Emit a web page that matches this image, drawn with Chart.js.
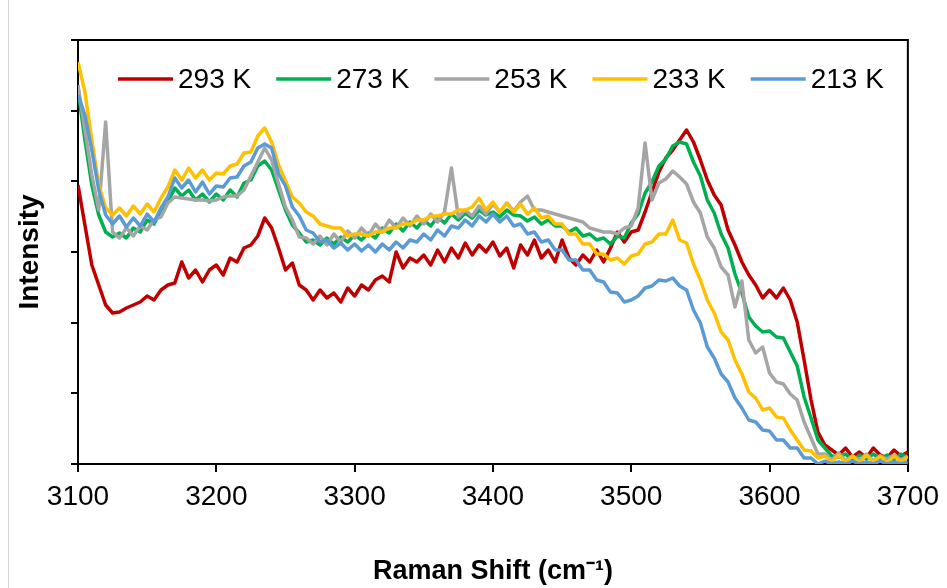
<!DOCTYPE html>
<html>
<head>
<meta charset="utf-8">
<script src="https://cdn.jsdelivr.net/npm/chart.js@4"></script>
<style>
  html, body { margin: 0; padding: 0; background: #fff; }
  #wrap { position: relative; width: 947px; height: 588px; }
  #edge { position: absolute; left: 8px; top: 0; width: 1px; height: 588px; background: #d4d4d4; }
</style>
</head>
<body>
<div id="wrap">
  <div id="edge"></div>
  <canvas id="ramanChart" width="947" height="588"></canvas>
</div>
<script>
// Sampling grid (cm-1)
const shiftStart = 3100;
const shiftStep = 5;
const xTicks = [3100, 3200, 3300, 3400, 3500, 3600, 3700];

// Series labels
const temps = ["293 K", "273 K", "253 K", "233 K", "213 K"];

// Intensity (a.u.), one value per 5 cm-1 from 3100 to 3700
const i293 = [279,239,199,179,159,151,152,156,159,162,
  168,164,174,179,181,202,186,194,182,194,
  199,189,206,202,216,219,228,246,236,216,
  194,201,179,174,164,174,166,171,162,176,
  168,179,174,184,188,182,212,196,206,202,
  209,199,214,202,216,206,221,209,219,212,
  222,208,216,196,219,209,224,206,214,202,
  224,206,199,209,202,214,202,216,232,222,
  232,234,252,272,292,306,314,324,334,322,
  304,284,269,259,234,219,202,189,179,166,
  174,166,176,164,142,104,64,32,19,14,
  9,16,7,12,6,16,9,6,14,8,12];

const i273 = [374,324,279,249,232,227,231,226,236,232,
  244,240,254,262,276,268,274,264,270,262,
  270,264,274,267,281,284,298,303,294,274,
  254,239,231,222,224,219,226,220,227,222,
  229,224,231,226,236,231,240,233,242,236,
  244,238,247,241,250,244,251,246,254,249,
  252,247,254,249,248,243,247,240,244,238,
  238,232,236,228,230,224,226,220,228,226,
  241,250,271,282,298,305,318,322,320,302,
  288,264,251,230,216,190,171,147,138,132,
  133,127,126,112,98,67,46,24,16,8,
  7,10,3,9,5,10,5,9,4,10,6];

const i253 = [379,334,289,254,342,232,226,236,228,238,
  234,244,247,261,267,266,265,264,264,263,
  264,267,268,268,274,288,302,316,304,280,
  257,244,227,226,220,228,219,230,222,233,
  226,236,228,240,232,244,236,246,238,248,
  240,250,242,252,296,247,254,248,258,250,
  260,252,261,253,262,268,254,254,252,250,
  248,246,244,242,236,234,232,232,230,236,
  238,256,321,264,281,285,293,287,280,262,
  251,227,216,197,189,157,183,124,111,117,
  91,82,80,70,64,42,26,10,10,4,
  11,3,8,4,10,3,8,5,9,4,8];

const i233 = [402,372,324,279,256,249,256,248,258,250,
  260,252,266,277,294,284,296,286,294,284,
  291,290,298,300,311,312,328,336,322,299,
  283,267,261,252,248,240,238,236,236,228,
  230,230,228,232,232,236,236,240,240,244,
  244,248,248,250,250,254,254,257,266,254,
  262,252,261,252,260,250,256,246,248,240,
  240,230,230,220,220,210,210,204,206,200,
  208,210,220,222,230,230,244,224,221,200,
  184,164,151,132,124,104,90,72,66,54,
  56,47,46,34,24,14,13,6,8,2,
  9,2,8,1,9,2,8,1,8,2,7];

const i213 = [369,349,314,274,249,240,248,237,246,238,
  250,242,256,267,286,276,284,272,282,270,
  278,277,286,287,298,302,316,320,316,290,
  278,257,248,234,231,222,224,216,221,214,
  220,213,219,212,220,214,222,216,224,222,
  230,224,234,228,238,236,244,238,248,242,
  250,242,248,238,240,230,232,222,224,214,
  214,204,204,194,194,184,182,172,171,162,
  164,168,176,178,184,183,186,178,174,154,
  141,117,106,90,82,66,56,44,42,34,
  33,24,24,16,16,6,6,0,3,0,
  2,0,3,0,2,0,3,0,2,0,2];

const series = [i293, i273, i253, i233, i213];
const lineColors = ["#C00000", "#00B050", "#A5A5A5", "#FFC000", "#5B9BD5"];
const drawOrder = [5, 4, 3, 2, 1];

const FONT = "'Liberation Sans', Arial, sans-serif";
const yMax = 424;

// Box around the plot
const framePlugin = {
  id: "frame",
  beforeDatasetsDraw(chart) {
    const { ctx, chartArea: a } = chart;
    ctx.save();
    ctx.strokeStyle = "#000";
    ctx.lineWidth = 2;
    ctx.strokeRect(a.left, a.top, a.right - a.left, a.bottom - a.top);
    ctx.restore();
  },
};

// Legend row inside the plot
const insideLegend = {
  id: "insideLegend",
  afterDatasetsDraw(chart) {
    const { ctx, chartArea: a } = chart;
    ctx.save();
    ctx.font = "28px " + FONT;
    ctx.textBaseline = "middle";
    ctx.textAlign = "left";
    let x = a.left + 40;
    const y = a.top + 39;
    chart.data.datasets.forEach((ds) => {
      ctx.strokeStyle = ds.borderColor;
      ctx.lineWidth = 3.5;
      ctx.beginPath();
      ctx.moveTo(x, y);
      ctx.lineTo(x + 55, y);
      ctx.stroke();
      ctx.fillStyle = "#000";
      ctx.fillText(ds.label, x + 60, y + 1);
      x += 60 + ctx.measureText(ds.label).width + 25;
    });
    ctx.restore();
  },
};

const datasets = temps.map((t, k) => ({
  label: t,
  data: series[k].map((v, i) => ({ x: shiftStart + i * shiftStep, y: v })),
  borderColor: lineColors[k],
  backgroundColor: lineColors[k],
  borderWidth: 3.5,
  borderJoinStyle: "round",
  pointRadius: 0,
  tension: 0,
  order: drawOrder[k],
}));

new Chart(document.getElementById("ramanChart"), {
  type: "line",
  data: { datasets },
  plugins: [framePlugin, insideLegend],
  options: {
    responsive: false,
    animation: false,
    layout: { padding: { left: 10, top: 40, right: 37, bottom: 0 } },
    plugins: { legend: { display: false }, tooltip: { enabled: false } },
    scales: {
      x: {
        type: "linear",
        min: 3100,
        max: 3700,
        afterBuildTicks: (scale) => {
          scale.ticks = xTicks.map((v) => ({ value: v }));
        },
        afterFit: (scale) => {
          scale.height = 124;
        },
        ticks: {
          color: "#000",
          font: { family: FONT, size: 28 },
          padding: 8,
          maxRotation: 0,
          autoSkip: false,
          callback: (v) => String(v),
        },
        grid: { drawOnChartArea: false, drawTicks: true, tickLength: 8, color: "#000", lineWidth: 2 },
        border: { display: true, color: "#000", width: 2 },
        title: {
          display: true,
          text: "Raman Shift (cm\u207B\u00B9)",
          color: "#000",
          font: { family: FONT, size: 27, weight: "bold" },
          padding: { top: 0, bottom: 0 },
        },
      },
      y: {
        min: 0,
        max: yMax,
        afterBuildTicks: (scale) => {
          scale.ticks = [0, 1, 2, 3, 4, 5, 6].map((i) => ({ value: (i * yMax) / 6 }));
        },
        afterFit: (scale) => {
          scale.width = 68;
        },
        ticks: { display: false },
        grid: { drawOnChartArea: false, drawTicks: true, tickLength: 7, color: "#000", lineWidth: 2 },
        border: { display: true, color: "#000", width: 2 },
        title: {
          display: true,
          text: "Intensity",
          color: "#000",
          font: { family: FONT, size: 28, weight: "bold" },
          padding: { top: 3, bottom: 0 },
        },
      },
    },
  },
});
</script>
</body>
</html>
